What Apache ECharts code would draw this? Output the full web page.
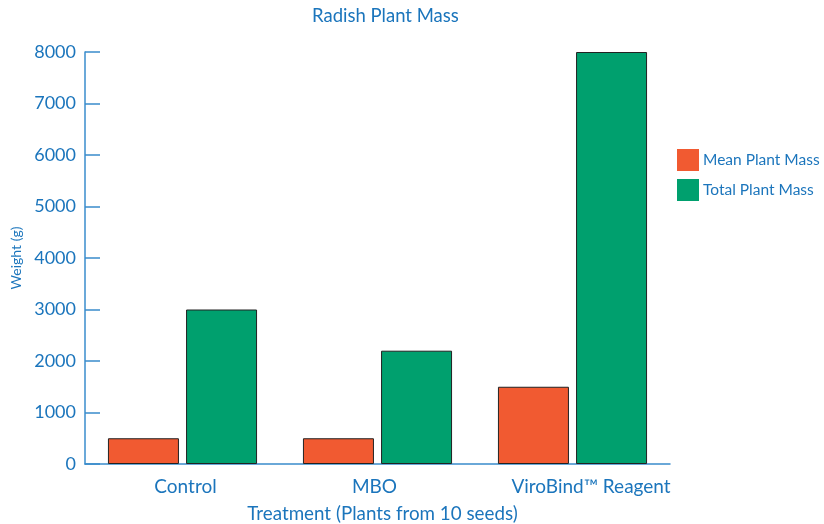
<!DOCTYPE html>
<html><head><meta charset="utf-8">
<script src="https://cdn.jsdelivr.net/npm/echarts@6/dist/echarts.min.js"></script>
<style>html,body{margin:0;padding:0;background:#fff}#c{width:824px;height:524px}</style>
</head><body><div id="c"></div>
<script>
const categories = ['Control', 'MBO', 'ViroBind\u2122 Reagent'];
const meanMass = [500, 500, 1500];
const totalMass = [3000, 2200, 8000];
const seriesNames = ['Mean Plant Mass', 'Total Plant Mass'];

const blue = '#1b75bc';
const font = 'Lato, "Open Sans", sans-serif';
// per-label horizontal nudges (style only)
const labelPad = [[0, 0, 0, 6], [0, 6, 0, 0], [0, 0, 0, 37]];
const chart = echarts.init(document.getElementById('c'));
chart.setOption({
  animation: false,
  textStyle: { fontFamily: font },
  title: {
    text: 'Radish Plant Mass', left: 307, top: 2,
    textStyle: { color: blue, fontSize: 18.5, fontWeight: 'normal', fontFamily: font }
  },
  legend: {
    orient: 'vertical', left: 672, top: 144, itemWidth: 22, itemHeight: 22, itemGap: 8,
    icon: 'rect',
    itemStyle: { borderWidth: 0 },
    textStyle: { color: blue, fontSize: 15.5, fontFamily: font, padding: [0, 0, 0, -1] },
    data: seriesNames
  },
  grid: { left: 85, right: 154, top: 52, bottom: 60, containLabel: false, outerBoundsMode: 'none' },
  xAxis: {
    type: 'category',
    data: categories.map((c, i) => ({ value: c, textStyle: { padding: labelPad[i] } })),
    name: 'Treatment (Plants from 10 seeds)', nameLocation: 'middle', nameGap: 40,
    nameTextStyle: { color: blue, fontSize: 18.8, fontFamily: font, padding: [0, 0, 0, 10] },
    axisLine: { lineStyle: { color: '#3a8ccc', width: 1.5 } },
    axisTick: { inside: true, length: 10, lineStyle: { color: '#3a8ccc', width: 1.5 } },
    axisLabel: { color: blue, fontSize: 19, margin: 13, interval: 0, fontFamily: font }
  },
  yAxis: {
    type: 'value', min: 0, max: 8000, interval: 1000,
    name: 'Weight (g)', nameLocation: 'middle', nameGap: 60, nameRotate: 90,
    nameTextStyle: { color: blue, fontSize: 14, fontFamily: font },
    axisLine: { show: true, lineStyle: { color: '#3a8ccc', width: 1.5 } },
    axisTick: { show: true, inside: true, length: 15, lineStyle: { color: '#3a8ccc', width: 1.5 } },
    axisLabel: { color: blue, fontSize: 18, margin: 9, fontFamily: font, formatter: v => String(v) },
    splitLine: { show: false }
  },
  series: [
    { name: seriesNames[0], type: 'bar', data: meanMass, barWidth: 71, barGap: '10%',
      itemStyle: { color: '#f15a31', borderColor: '#222', borderWidth: 1 } },
    { name: seriesNames[1], type: 'bar', data: totalMass, barWidth: 71, barGap: '10%',
      itemStyle: { color: '#00a06e', borderColor: '#222', borderWidth: 1 } }
  ]
});
</script></body></html>
